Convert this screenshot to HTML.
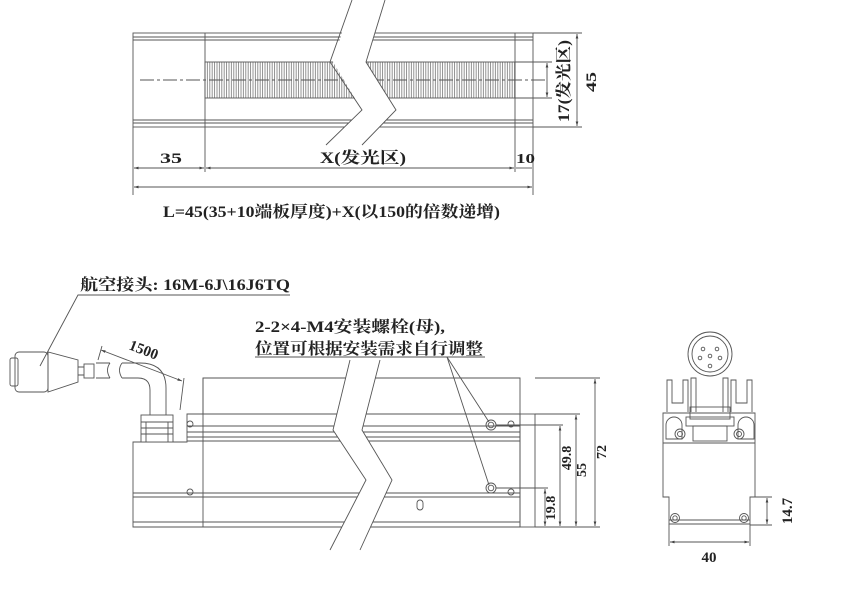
<!DOCTYPE html>
<html><head><meta charset="utf-8"><style>
html,body{margin:0;padding:0;background:#fff;}
svg{display:block;}
text{font-family:"Liberation Serif","Noto Serif CJK SC",serif;font-weight:bold;fill:#222;}
</style></head><body>
<svg width="843" height="611" viewBox="0 0 843 611" xmlns="http://www.w3.org/2000/svg">
<defs>
<pattern id="hat" width="2.4" height="10" patternUnits="userSpaceOnUse"><rect width="2.4" height="10" fill="#fff"/><line x1="1" y1="0" x2="1" y2="10" stroke="#777" stroke-width="0.8"/></pattern>
<marker id="ar" viewBox="0 0 10 10" refX="10" refY="5" markerWidth="7" markerHeight="5" orient="auto-start-reverse"><path d="M0,2 L10,5 L0,8z" fill="#444"/></marker>
</defs>
<g fill="none" stroke="#555" stroke-width="0.9">
<!-- TOP VIEW -->
<rect x="133" y="33" width="400" height="94"/>
<line x1="133" y1="37" x2="533" y2="37"/><line x1="133" y1="40" x2="533" y2="40"/>
<line x1="133" y1="120" x2="533" y2="120"/><line x1="133" y1="123" x2="533" y2="123"/>
<line x1="205" y1="33" x2="205" y2="127"/><line x1="515" y1="33" x2="515" y2="127"/>
<rect x="205" y="62" width="310" height="36" fill="url(#hat)"/>
<line x1="140" y1="80" x2="545" y2="80" stroke-dasharray="14,3,3,3"/>
<polygon points="333,62 362,110 326,145 362,145 396,110 366,62 385,0 352,0" fill="#fff" stroke="none"/>
<path d="M352,0 L330,62 L362,110 L326,145"/>
<path d="M385,0 L366,62 L396,110 L362,145"/>
<!-- dims top -->
<line x1="133" y1="127" x2="133" y2="195"/><line x1="205" y1="127" x2="205" y2="172"/>
<line x1="515" y1="127" x2="515" y2="172"/><line x1="533" y1="127" x2="533" y2="195"/>
<line x1="134" y1="168" x2="204" y2="168" marker-start="url(#ar)" marker-end="url(#ar)"/>
<line x1="206" y1="168" x2="514" y2="168" marker-start="url(#ar)" marker-end="url(#ar)"/>
<line x1="516" y1="168" x2="532" y2="168"/>
<line x1="134" y1="187" x2="532" y2="187" marker-start="url(#ar)" marker-end="url(#ar)"/>
<line x1="515" y1="62" x2="552" y2="62"/><line x1="515" y1="98" x2="552" y2="98"/>
<line x1="547" y1="63" x2="547" y2="97" marker-start="url(#ar)" marker-end="url(#ar)"/>
<line x1="533" y1="33" x2="582" y2="33"/><line x1="533" y1="127" x2="582" y2="127"/>
<line x1="577" y1="34" x2="577" y2="126" marker-start="url(#ar)" marker-end="url(#ar)"/>

<!-- FRONT VIEW -->
<path d="M203,378 L520,378 L520,527 L133,527 L133,442 L187,442 L187,414 L203,414 Z"/>
<rect x="520" y="414" width="15" height="113"/>
<line x1="203" y1="378" x2="203" y2="527"/>
<line x1="187" y1="414" x2="520" y2="414"/>
<line x1="187" y1="426" x2="520" y2="426"/><line x1="187" y1="432" x2="520" y2="432"/>
<line x1="187" y1="437" x2="520" y2="437"/><line x1="187" y1="441" x2="520" y2="441"/>
<line x1="133" y1="493" x2="520" y2="493"/><line x1="133" y1="497" x2="520" y2="497"/>
<line x1="133" y1="522" x2="520" y2="522"/>
<circle cx="190" cy="424" r="3"/><circle cx="190" cy="492" r="3"/>
<circle cx="511" cy="424" r="3"/><circle cx="511" cy="492" r="3"/>
<circle cx="491" cy="425" r="5"/><circle cx="491" cy="425" r="2.8"/>
<circle cx="491" cy="488" r="5"/><circle cx="491" cy="488" r="2.8"/>
<rect x="417" y="500" width="6" height="10" rx="3"/>
<polygon points="350,360 333,430 366,480 330,550 360,550 392,480 362,430 380,360" fill="#fff" stroke="none"/>
<path d="M350,360 L333,430 L366,480 L330,550"/>
<path d="M380,360 L362,430 L392,480 L360,550"/>
<!-- fitting -->
<rect x="141" y="415" width="32" height="27" fill="#fff"/>
<line x1="141" y1="422" x2="173" y2="422"/><line x1="141" y1="428" x2="173" y2="428"/><line x1="141" y1="434" x2="173" y2="434"/>
<line x1="146" y1="422" x2="146" y2="442"/><line x1="168" y1="422" x2="168" y2="442"/>
<!-- cable elbow -->
<path d="M150,415 L150,390 Q150,378 138,378 L122,378"/>
<path d="M166,415 L166,388 Q166,363 140,363 L122,363"/>
<path d="M122,363 Q117,370 122,378"/>
<path d="M110,363 L96,363 M110,378 L96,378 M110,363 Q105,370 110,378"/>
<!-- connector -->
<rect x="84" y="364" width="10" height="14"/>
<path d="M84,367 L78,367 M84,375 L78,375"/>
<path d="M78,360 L78,382 L48,392 L48,352 Z"/>
<rect x="15" y="352" width="33" height="40" rx="4"/>
<rect x="10" y="358" width="8" height="28" rx="2"/>
<!-- 1500 dim -->
<line x1="98" y1="360" x2="102" y2="346"/>
<line x1="180" y1="410" x2="184" y2="378"/>
<line x1="101" y1="350" x2="182" y2="381" marker-start="url(#ar)" marker-end="url(#ar)"/>
<!-- leaders -->
<polyline points="290,295 78,295 40,366"/>
<polyline points="485,357 255,357"/>
<line x1="447" y1="357" x2="489" y2="422"/><line x1="447" y1="357" x2="489" y2="485"/>
<!-- right dims -->
<line x1="535" y1="378" x2="600" y2="378"/><line x1="535" y1="414" x2="580" y2="414"/>
<line x1="496" y1="425" x2="563" y2="425"/><line x1="496" y1="488" x2="548" y2="488"/>
<line x1="535" y1="527" x2="600" y2="527"/>
<line x1="545" y1="489" x2="545" y2="526" marker-start="url(#ar)" marker-end="url(#ar)"/>
<line x1="560" y1="426" x2="560" y2="526" marker-start="url(#ar)" marker-end="url(#ar)"/>
<line x1="576" y1="415" x2="576" y2="526" marker-start="url(#ar)" marker-end="url(#ar)"/>
<line x1="595" y1="379" x2="595" y2="526" marker-start="url(#ar)" marker-end="url(#ar)"/>

<!-- SIDE VIEW -->
<circle cx="710" cy="354" r="22"/><circle cx="710" cy="354" r="18"/>
<circle cx="703" cy="349" r="1.8"/><circle cx="717" cy="349" r="1.8"/><circle cx="700" cy="358" r="1.8"/><circle cx="710" cy="356" r="1.8"/><circle cx="720" cy="358" r="1.8"/><circle cx="710" cy="366" r="1.8"/>
<path d="M667,412 L667,380 L672,380 L672,403 L683,403 L683,380 L688,380 L688,412"/>
<path d="M752,412 L752,380 L747,380 L747,403 L736,403 L736,380 L731,380 L731,412"/>
<path d="M691,412 L691,378 L696,378 L696,412 M728,412 L728,378 L723,378 L723,412"/>
<rect x="690" y="407" width="40" height="12"/>
<rect x="686" y="417" width="48" height="9"/>
<rect x="693" y="426" width="34" height="15"/>
<path d="M663,413 L755,413 L755,497 L750,497 L750,524 L669,524 L669,497 L663,497 Z"/>
<line x1="663" y1="443" x2="755" y2="443"/>
<line x1="669" y1="520" x2="750" y2="520"/>
<path d="M666,425 a5,5 0 0 1 16,0 L682,439 L666,439 Z"/>
<path d="M738,425 a5,5 0 0 1 16,0 L754,439 L738,439 Z"/>
<circle cx="680" cy="434" r="5"/><circle cx="680" cy="434" r="2.5"/>
<circle cx="739" cy="434" r="5"/><circle cx="739" cy="434" r="2.5"/>
<circle cx="675" cy="518" r="4.5"/><circle cx="675" cy="518" r="2.2"/>
<circle cx="744" cy="518" r="4.5"/><circle cx="744" cy="518" r="2.2"/>
<line x1="669" y1="524" x2="669" y2="546"/><line x1="750" y1="524" x2="750" y2="546"/>
<line x1="670" y1="542" x2="749" y2="542" marker-start="url(#ar)" marker-end="url(#ar)"/>
<line x1="755" y1="497" x2="772" y2="497"/><line x1="750" y1="525" x2="772" y2="525"/>
<line x1="767" y1="498" x2="767" y2="524" marker-start="url(#ar)" marker-end="url(#ar)"/>
</g>
<!-- TEXT -->
<text x="160" y="163" font-size="15" textLength="22" lengthAdjust="spacingAndGlyphs">35</text>
<text x="320" y="163" font-size="16" textLength="86" lengthAdjust="spacingAndGlyphs">X(发光区)</text>
<text x="516" y="163" font-size="14" textLength="19" lengthAdjust="spacingAndGlyphs">10</text>
<text x="163" y="217" font-size="16" textLength="337" lengthAdjust="spacingAndGlyphs">L=45(35+10端板厚度)+X(以150的倍数递增)</text>
<text transform="translate(569,122) rotate(-90)" font-size="16" textLength="82" lengthAdjust="spacingAndGlyphs">17(发光区)</text>
<text transform="translate(596,92) rotate(-90)" font-size="15" textLength="20" lengthAdjust="spacingAndGlyphs">45</text>
<text x="80" y="290" font-size="16" textLength="210" lengthAdjust="spacingAndGlyphs">航空接头: 16M-6J\16J6TQ</text>
<text x="255" y="332" font-size="16" textLength="190" lengthAdjust="spacingAndGlyphs">2-2×4-M4安装螺栓(母),</text>
<text x="255" y="354" font-size="16" textLength="228" lengthAdjust="spacingAndGlyphs">位置可根据安装需求自行调整</text>
<text transform="translate(128,349) rotate(21)" font-size="15">1500</text>
<text transform="translate(555,508) rotate(-90)" font-size="14" text-anchor="middle">19.8</text>
<text transform="translate(571,458) rotate(-90)" font-size="14" text-anchor="middle">49.8</text>
<text transform="translate(586,470) rotate(-90)" font-size="14" text-anchor="middle">55</text>
<text transform="translate(606,452) rotate(-90)" font-size="14" text-anchor="middle">72</text>
<text x="709" y="562" font-size="15" text-anchor="middle">40</text>
<text transform="translate(792,511) rotate(-90)" font-size="15" text-anchor="middle">14.7</text>
</svg>
</body></html>
